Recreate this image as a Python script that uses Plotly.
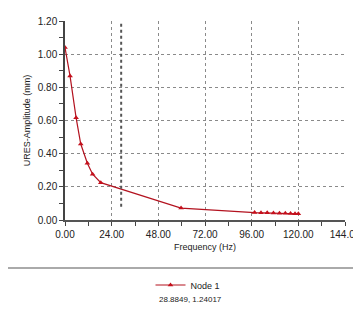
import plotly.graph_objects as go

freq = [0.0, 2.6, 5.7, 8.1, 11.5, 14.2, 18.4, 59.7,
        97.5, 100.8, 104.0, 107.2, 110.3, 113.3, 116.0, 118.3, 120.0]
amp = [1.04, 0.868, 0.617, 0.458, 0.342, 0.276, 0.225, 0.072,
       0.045, 0.044, 0.043, 0.042, 0.041, 0.040, 0.039, 0.038, 0.037]
series_name = "Node 1"
x_ticks = [0, 24, 48, 72, 96, 120, 144]
y_ticks = [0, 0.2, 0.4, 0.6, 0.8, 1.0, 1.2]
cursor = (28.8849, 1.24017)

OFF = 8  # page body margin
W, H = 361 - OFF, 322 - 2 * OFF
# plot area in page pixels: x 65..345, y 21..220
L, T = 65 - OFF, 21 - OFF
R = W - (345 - OFF)
B = H - (220 - OFF)
pw, ph = W - L - R, H - T - B

def px(x):
    return (x - OFF - L) / pw

def py(y):
    return (H - B - (y - OFF)) / ph

fig = go.Figure()
fig.add_trace(go.Scatter(
    x=freq, y=amp, mode="lines+markers", name=series_name,
    line=dict(color="#b3121f", width=1.2),
    marker=dict(symbol="triangle-up", size=5, color="#c4101c"),
))

font = "Liberation Sans, Arial, sans-serif"
fig.update_layout(
    width=W, height=H,
    margin=dict(l=L, r=R, t=T, b=B, autoexpand=False),
    paper_bgcolor="white", plot_bgcolor="white",
    font=dict(family=font, size=10, color="#222"),
    showlegend=True,
    legend=dict(orientation="h", x=px(188), xanchor="center",
                y=py(285), yanchor="middle", font=dict(size=9),
                bgcolor="rgba(0,0,0,0)"),
    xaxis=dict(range=[0, 144], tickvals=x_ticks, tickformat=".2f", automargin=False,
               ticklabeloverflow="allow",
               showgrid=True, gridcolor="#8a8a8a", griddash="dot", gridwidth=1,
               showline=True, linecolor="#555", linewidth=2,
               ticks="outside", ticklen=4, tickcolor="#444",
               minor=dict(ticks="outside", dtick=12, ticklen=4, tickcolor="#444", showgrid=False),
               zeroline=False,
               title=dict(text="Frequency (Hz)", font=dict(size=9), standoff=5),
               tickfont=dict(size=10)),
    yaxis=dict(range=[0, 1.2], tickvals=y_ticks, tickformat=".2f", automargin=False,
               ticklabeloverflow="allow",
               showgrid=True, gridcolor="#8a8a8a", griddash="dot", gridwidth=1,
               showline=True, linecolor="#444", linewidth=1.5,
               ticks="outside", ticklen=4, tickcolor="#444",
               minor=dict(ticks="outside", dtick=0.1, ticklen=4, tickcolor="#444", showgrid=False),
               zeroline=False,
               title=dict(text="URES-Amplitude (mm)", font=dict(size=9), standoff=6),
               tickfont=dict(size=10)),
)

# separator
fig.add_shape(type="line", xref="paper", yref="paper", x0=px(OFF), x1=px(361), y0=py(268), y1=py(268),
              line=dict(color="#aaa", width=2))

# cursor line
fig.add_shape(type="line", xref="x", yref="y", x0=cursor[0], x1=cursor[0], y0=0.08, y1=1.2,
              line=dict(color="#555", width=2, dash="dot"))

fig.add_annotation(xref="paper", yref="paper", x=px(190), y=py(306),
                   text=f"{cursor[0]}, {cursor[1]}", showarrow=False,
                   font=dict(size=8, color="#222"))

fig.write_html("out.html")
